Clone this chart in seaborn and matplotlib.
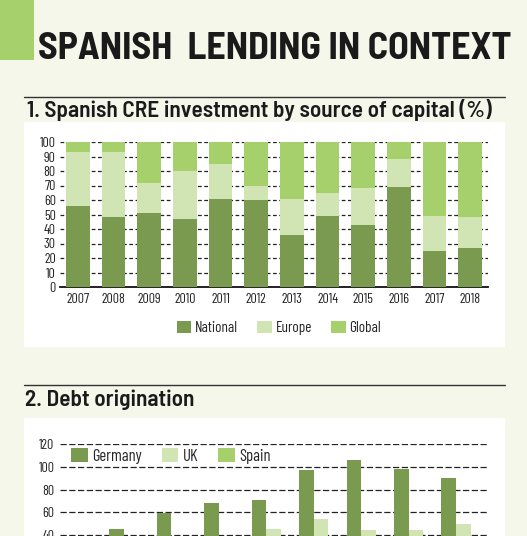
import numpy as np
import pandas as pd
import matplotlib
matplotlib.use("Agg")
import matplotlib.pyplot as plt
from matplotlib.patches import Rectangle, Patch
import seaborn as sns

# chart 1: Spanish CRE investment by source of capital (%)
years = ["2007", "2008", "2009", "2010", "2011", "2012",
         "2013", "2014", "2015", "2016", "2017", "2018"]
national = [56, 48, 51, 47, 61, 60, 36, 49, 43, 69, 25, 27]
europe = [37, 45, 21, 33, 24, 10, 25, 16, 25, 19, 24, 21]
global_ = [100 - n - e for n, e in zip(national, europe)]

# chart 2: Debt origination (only the upper part is visible)
debt_years = ["2010", "2011", "2012", "2013", "2014", "2015", "2016", "2017", "2018"]
germany = [35, 45, 59, 68, 71, 97, 106, 98, 90]
uk = [25, 28, 30, 36, 45, 54, 44, 44, 50]
spain = [8, 6, 5, 7, 10, 14, 18, 20, 22]

DARK = "#7a9a50"
LIGHT = "#d0e4b4"
MID = "#a6d06c"
BG = "#f4f7ea"
INK = "#1a1a1a"

sns.set_style("white")
plt.rcParams["font.family"] = ["Barlow Condensed", "DejaVu Sans"]

W, H = 527, 536
fig = plt.figure(figsize=(W / 100, H / 100), dpi=100, facecolor=BG)


def px(x0, y0, x1, y1):
    # pixel box (top-left origin) -> figure fraction rect
    return [x0 / W, 1 - y1 / H, (x1 - x0) / W, (y1 - y0) / H]


def fit_width(txt, width_px):
    # shrink/grow a heading so it spans the same width as in the reference
    r = fig.canvas.get_renderer()
    w = txt.get_window_extent(renderer=r).width
    txt.set_fontsize(txt.get_fontsize() * width_px / w)


# decorations (behind the axes)
fig.patches.append(Rectangle((0, 1 - 60 / H), 34 / W, 60 / H, transform=fig.transFigure,
                             facecolor=MID, edgecolor="none", zorder=-5))
fig.patches.append(Rectangle((24 / W, 1 - 347 / H), 481 / W, 225 / H, transform=fig.transFigure,
                             facecolor="white", edgecolor="none", zorder=-5))
fig.patches.append(Rectangle((24 / W, -0.05), 481 / W, 0.05 + 118 / H, transform=fig.transFigure,
                             facecolor="white", edgecolor="none", zorder=-5))
for yl in (96.5, 385):
    fig.lines.append(plt.Line2D([24 / W, 505 / W], [1 - yl / H] * 2, transform=fig.transFigure,
                                color="#333333", lw=1))

t0 = fig.text(38 / W, 1 - 59 / H, "SPANISH  LENDING IN CONTEXT", fontsize=27,
              fontweight="bold", color=INK, va="baseline", ha="left", family="Barlow Semi Condensed")
t1 = fig.text(27 / W, 1 - 117 / H, "1. Spanish CRE investment by source of capital (%)",
              fontsize=16, fontweight="semibold", color=INK, va="baseline", ha="left",
              family="Barlow Semi Condensed")
t2 = fig.text(25 / W, 1 - 406.5 / H, "2. Debt origination",
              fontsize=16, fontweight="semibold", color=INK, va="baseline", ha="left",
              family="Barlow Semi Condensed")
fit_width(t0, 474)
fit_width(t1, 466)
t2.set_fontsize(t1.get_fontsize())

# ---------------- chart 1 ----------------
ax1 = fig.add_axes(px(60, 142, 488, 287))
ax1.set_facecolor("none")
df1 = pd.DataFrame({"year": years, "national": national, "europe": europe, "global": global_})
df1["ne"] = df1["national"] + df1["europe"]
df1["total"] = df1["ne"] + df1["global"]
for col, c in (("total", MID), ("ne", LIGHT), ("national", DARK)):
    sns.barplot(data=df1, x="year", y=col, color=c, width=0.67, saturation=1,
                linewidth=0, ax=ax1, zorder=3)
ax1.set_ylim(0, 100)
ax1.set_xlim(-0.5, len(years) - 0.5)
ax1.set_yticks(range(0, 101, 10))
ax1.yaxis.grid(True, linestyle=(0, (3, 2)), color="#222222", lw=0.9)
ax1.set_axisbelow(True)
for s in ("top", "right", "left"):
    ax1.spines[s].set_visible(False)
ax1.spines["bottom"].set_color("#111111")
ax1.spines["bottom"].set_linewidth(1.3)
ax1.tick_params(axis="both", length=0, labelsize=10, colors="#222222")
ax1.tick_params(axis="y", pad=3)
ax1.tick_params(axis="x", pad=4)
ax1.set_xlabel("")
ax1.set_ylabel("")
handles1 = [Patch(facecolor=c, edgecolor="none") for c in (DARK, LIGHT, MID)]
ax1.legend(handles1, ["National", "Europe", "Global"], ncol=3, frameon=False,
           loc="center", bbox_to_anchor=(279 / W, 1 - 328 / H), bbox_transform=fig.transFigure,
           fontsize=11, handlelength=0.95, handleheight=0.9, handletextpad=0.25, columnspacing=1.25)

# ---------------- chart 2 ----------------
ax2 = fig.add_axes(px(60, 444.3, 487, 580.4))
ax2.set_facecolor("none")
df2 = pd.DataFrame({
    "year": debt_years * 3,
    "value": germany + uk + spain,
    "country": ["Germany"] * len(debt_years) + ["UK"] * len(debt_years) + ["Spain"] * len(debt_years),
})
sns.barplot(data=df2, x="year", y="value", hue="country",
            palette={"Germany": DARK, "UK": LIGHT, "Spain": MID},
            width=0.92, saturation=1, linewidth=0, ax=ax2, zorder=3, legend=False)
ax2.set_ylim(0, 120)
ax2.set_xlim(-0.5, len(debt_years) - 0.5)
ax2.set_yticks(range(0, 121, 20))
ax2.yaxis.grid(True, linestyle=(0, (5, 2)), color="#222222", lw=0.9)
ax2.set_axisbelow(True)
for s in ("top", "right", "left", "bottom"):
    ax2.spines[s].set_visible(False)
ax2.tick_params(axis="both", length=0, labelsize=10, colors="#222222")
ax2.tick_params(axis="y", pad=4)
ax2.tick_params(axis="x", labelbottom=False)  # year labels sit below the visible crop
ax2.set_xlabel("")
ax2.set_ylabel("")
handles2 = [Patch(facecolor=c, edgecolor="none") for c in (DARK, LIGHT, MID)]
ax2.legend(handles2, ["Germany", "UK", "Spain"], ncol=3, frameon=False,
           loc="center left", bbox_to_anchor=(56 / W, 1 - 456 / H), bbox_transform=fig.transFigure,
           fontsize=12, handlelength=1.0, handleheight=0.9, handletextpad=0.25, columnspacing=1.2)

fig.savefig("out.png", dpi=100, facecolor=BG)
